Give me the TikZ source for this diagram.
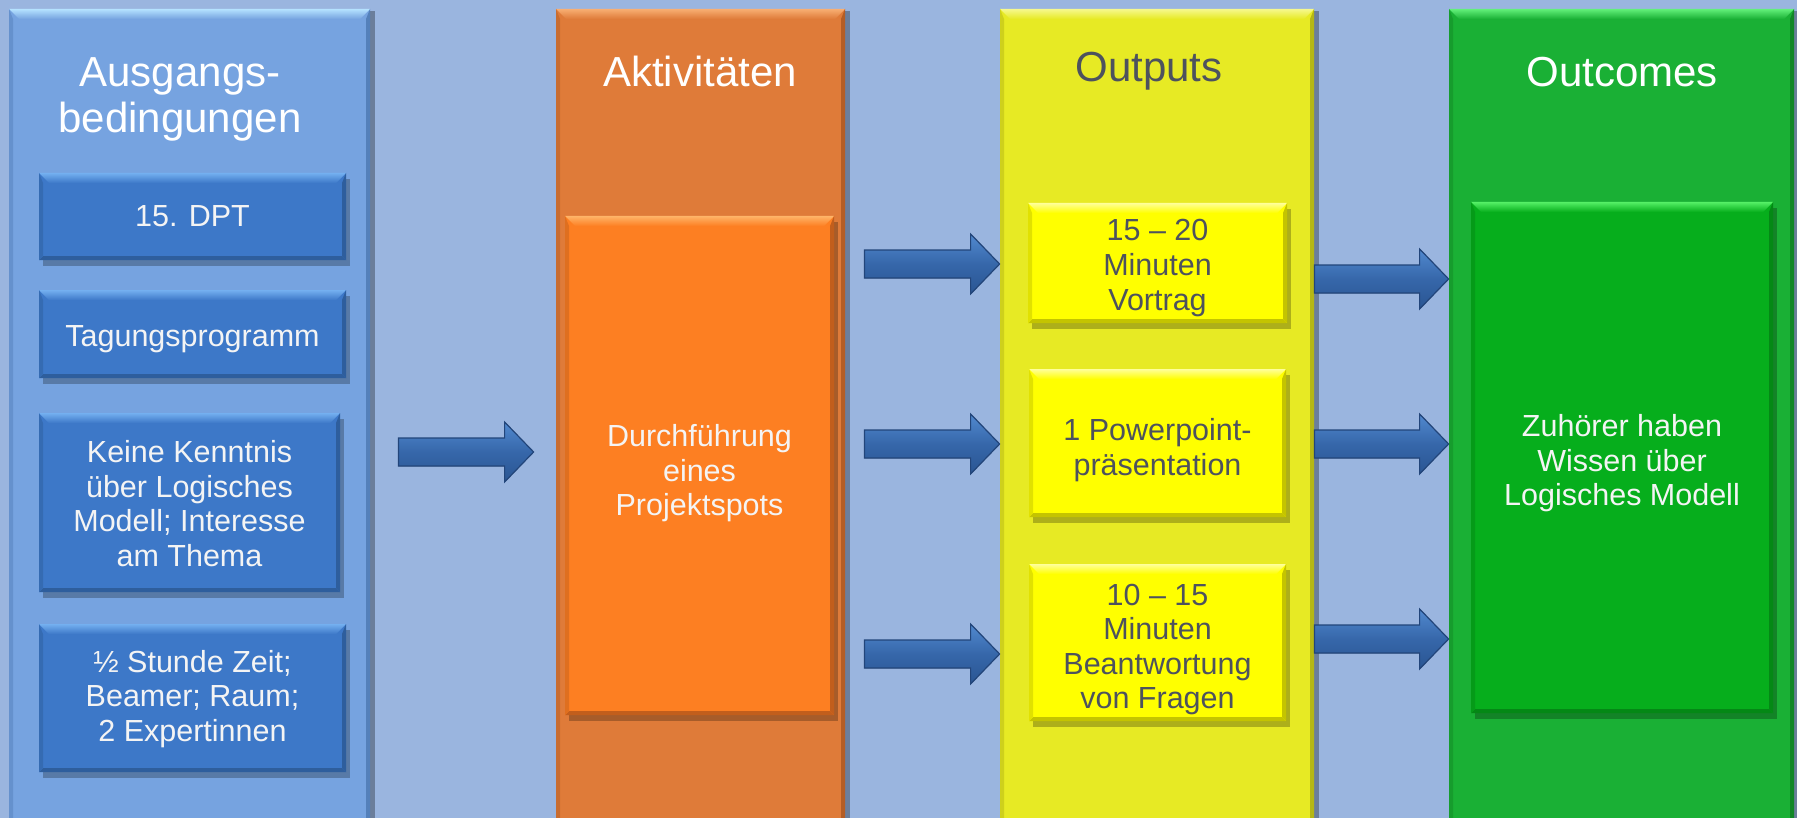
\documentclass[tikz,border=0pt]{standalone}
\usepackage{fontspec}
\setmainfont{Liberation Sans}
\usetikzlibrary{shadows,calc}
\definecolor{bg}{HTML}{9AB5DF}
\definecolor{bluecol}{HTML}{76A3E0}
\definecolor{bluecolhi}{HTML}{B5E2FF}
\definecolor{bluecoldk}{HTML}{4C77B0}
\definecolor{bluebox}{HTML}{3D78C8}
\definecolor{blueboxhi}{HTML}{74B0F0}
\definecolor{blueboxdk}{HTML}{2A5792}
\definecolor{orcol}{HTML}{DF7B39}
\definecolor{orcolhi}{HTML}{F8AE72}
\definecolor{orcoldk}{HTML}{A9561F}
\definecolor{orbox}{HTML}{FD7F22}
\definecolor{orboxhi}{HTML}{FFB468}
\definecolor{orboxdk}{HTML}{B3561A}
\definecolor{yecol}{HTML}{E7EA24}
\definecolor{yecolhi}{HTML}{F6F88E}
\definecolor{yecoldk}{HTML}{A8AA10}
\definecolor{yebox}{HTML}{FFFF00}
\definecolor{yeboxhi}{HTML}{FFFF9A}
\definecolor{yeboxdk}{HTML}{B5B500}
\definecolor{grcol}{HTML}{1AB035}
\definecolor{grcolhi}{HTML}{62F07A}
\definecolor{grcoldk}{HTML}{0F7D22}
\definecolor{grbox}{HTML}{06AE1C}
\definecolor{grboxhi}{HTML}{55F066}
\definecolor{grboxdk}{HTML}{047F13}
\definecolor{arrhi}{HTML}{5189CF}
\definecolor{arrmid}{HTML}{3667AA}
\definecolor{arrdk}{HTML}{2A5592}
\definecolor{arredge}{HTML}{22457A}
\definecolor{graytext}{HTML}{4D525E}
\definecolor{wtext}{HTML}{F4F4F4}
\tikzset{
  bevel/.style n args={3}{fill=#1, path picture={
    \coordinate (NW) at (path picture bounding box.north west);
    \coordinate (NE) at (path picture bounding box.north east);
    \coordinate (SW) at (path picture bounding box.south west);
    \coordinate (SE) at (path picture bounding box.south east);
    \shade[top color=#2, bottom color=#1] (NW) -- (NE) -- ([shift={(-5pt,-5pt)}]NE) -- ([shift={(5pt,-5pt)}]NW) -- cycle;
    \fill[#3!80!#1] (NE) -- (SE) -- ([shift={(-2pt,2pt)}]SE) -- ([shift={(-2pt,-5pt)}]NE) -- cycle;
    \fill[#3!80!#1] (SW) -- (SE) -- ([shift={(-2pt,2pt)}]SE) -- ([shift={(2pt,2pt)}]SW) -- cycle;
    \fill[#3!40!#1] (NW) -- (SW) -- ([shift={(2pt,2pt)}]SW) -- ([shift={(2pt,-5pt)}]NW) -- cycle;
  }},
  colbox/.style={rectangle, inner sep=0pt, draw=none,
    drop shadow={shadow xshift=2.5pt, shadow yshift=-1pt, opacity=.3, fill=black}},
  innerbox/.style={rectangle, inner sep=0pt, draw=none,
    drop shadow={shadow xshift=2pt, shadow yshift=-3pt, opacity=.25, fill=black}},
  boxtext/.style={inner sep=0pt, align=center, font=\fontsize{15.25}{17.3}\selectfont},
  coltitle/.style={inner sep=0pt, align=center, font=\fontsize{21}{23}\selectfont},
  blockarr/.style={top color=arrhi, bottom color=arrdk, middle color=arrmid, draw=arredge, line width=0.6pt, line join=miter},
}
\newcommand\blockarrow[2]{%
  \filldraw[blockarr] ($(#1)+(0,-14)$) -- ($(#2)+(-29,-14)$) -- ($(#2)+(-29,-30)$) -- (#2)
    -- ($(#2)+(-29,30)$) -- ($(#2)+(-29,14)$) -- ($(#1)+(0,14)$) -- cycle;}
\begin{document}
\begin{tikzpicture}[x=0.5pt,y=-0.5pt]
\useasboundingbox (0,0) rectangle (1797,818);
\clip (0,0) rectangle (1797,818);
\fill[bg] (0,0) rectangle (1797,818);

% columns
\node[colbox, bevel={bluecol}{bluecolhi}{bluecoldk}, minimum width=180.5pt, minimum height=415.5pt] (blue) at (189.5,424.5) {};
\node[colbox, bevel={orcol}{orcolhi}{orcoldk}, minimum width=144.5pt, minimum height=415.5pt] (orange) at (700.5,424.5) {};
\node[colbox, bevel={yecol}{yecolhi}{yecoldk}, minimum width=157pt, minimum height=415.5pt] (yellow) at (1157,424.5) {};
\node[colbox, bevel={grcol}{grcolhi}{grcoldk}, minimum width=172.5pt, minimum height=415.5pt] (green) at (1621.5,424.5) {};

% titles
\node[coltitle, text=white, anchor=base] (t0) at (180,133) {Ausgangs-\\bedingungen};
\node[coltitle, text=white, anchor=base] (t1) at (700,87) {Aktivitäten};
\node[coltitle, text=graytext, anchor=base] (t2) at (1149,82) {Outputs};
\node[coltitle, text=white, anchor=base] (t3) at (1622,87) {Outcomes};

% inner boxes
\node[innerbox, bevel={bluebox}{blueboxhi}{blueboxdk}, minimum width=153.5pt, minimum height=43.5pt] (b1) at (192.5,216.5) {};
\node[innerbox, bevel={bluebox}{blueboxhi}{blueboxdk}, minimum width=153.5pt, minimum height=44pt] (b2) at (192.5,334) {};
\node[innerbox, bevel={bluebox}{blueboxhi}{blueboxdk}, minimum width=150.5pt, minimum height=89.5pt] (b3) at (189.5,502.5) {};
\node[innerbox, bevel={bluebox}{blueboxhi}{blueboxdk}, minimum width=153.5pt, minimum height=74pt] (b4) at (192.5,698) {};
\node[innerbox, bevel={orbox}{orboxhi}{orboxdk}, minimum width=134.5pt, minimum height=249.5pt] (o1) at (699.5,465.5) {};
\node[innerbox, bevel={yebox}{yeboxhi}{yeboxdk}, minimum width=129.5pt, minimum height=60pt] (y1) at (1157.5,263) {};
\node[innerbox, bevel={yebox}{yeboxhi}{yeboxdk}, minimum width=128.5pt, minimum height=74pt] (y2) at (1157.5,443) {};
\node[innerbox, bevel={yebox}{yeboxhi}{yeboxdk}, minimum width=128.5pt, minimum height=78.5pt] (y3) at (1157.5,642.5) {};
\node[innerbox, bevel={grbox}{grboxhi}{grboxdk}, minimum width=151pt, minimum height=255.5pt] (g1) at (1622,457.5) {};

% box texts
\node[boxtext, text=wtext] (b1t) at (b1.center) {15. DPT};
\node[boxtext, text=wtext] (b2t) at ($(b2.center)+(0,5)$) {Tagungsprogramm};
\node[boxtext, text=wtext] (b3t) at ($(b3.center)+(0,1)$) {Keine Kenntnis\\über Logisches\\Modell; Interesse\\am Thema};
\node[boxtext, text=wtext] (b4t) at ($(b4.center)+(0,1)$) {½ Stunde Zeit;\\Beamer; Raum;\\2 Expertinnen};
\node[boxtext, text=wtext] (o1t) at ($(o1.center)+(0,8)$) {Durchführung\\eines\\Projektspots};
\node[boxtext, text=graytext] (y1t) at ($(y1.center)+(0,5)$) {15 – 20\\Minuten\\Vortrag};
\node[boxtext, text=graytext] (y2t) at ($(y2.center)+(0,7)$) {1 Powerpoint-\\präsentation};
\node[boxtext, text=graytext] (y3t) at ($(y3.center)+(0,7)$) {10 – 15\\Minuten\\Beantwortung\\von Fragen};
\node[boxtext, text=wtext] (g1t) at ($(g1.center)+(0,6)$) {Zuhörer haben\\Wissen über\\Logisches Modell};

% arrow end points
\path (blue.east |- 0,452) ++(28,0) coordinate (a0s);
\path (orange.west |- 0,452) ++(-22,0) coordinate (a0e);
\path (orange.east |- 0,264) ++(19,0) coordinate (a1s);
\path (yellow.west |- 0,264) coordinate (a1e);
\path (orange.east |- 0,444) ++(19,0) coordinate (a2s);
\path (yellow.west |- 0,444) coordinate (a2e);
\path (orange.east |- 0,654) ++(19,0) coordinate (a3s);
\path (yellow.west |- 0,654) coordinate (a3e);
\path (yellow.east |- 0,279) coordinate (a4s);
\path (green.west |- 0,279) coordinate (a4e);
\path (yellow.east |- 0,444) coordinate (a5s);
\path (green.west |- 0,444) coordinate (a5e);
\path (yellow.east |- 0,639) coordinate (a6s);
\path (green.west |- 0,639) coordinate (a6e);

\blockarrow{a0s}{a0e}
\blockarrow{a1s}{a1e}
\blockarrow{a2s}{a2e}
\blockarrow{a3s}{a3e}
\blockarrow{a4s}{a4e}
\blockarrow{a5s}{a5e}
\blockarrow{a6s}{a6e}
\end{tikzpicture}
\end{document}
